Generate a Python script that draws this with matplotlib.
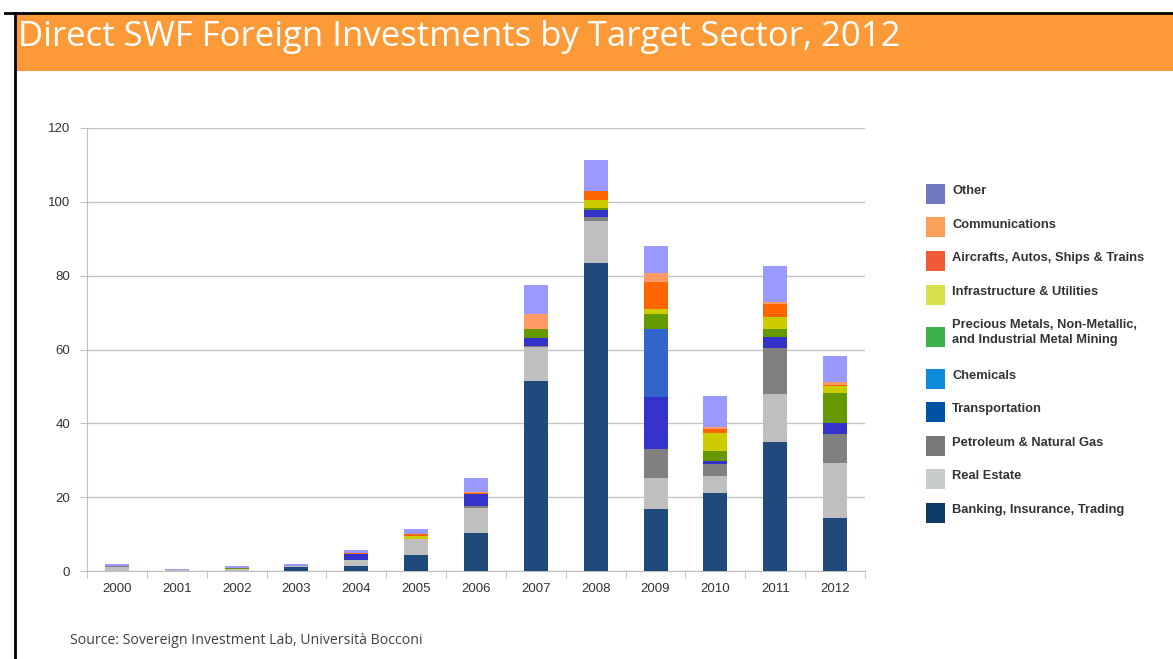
import matplotlib.pyplot as plt
from matplotlib.patches import Rectangle
from matplotlib.lines import Line2D
import numpy as np

W, H = 1173, 659

years = ['2000', '2001', '2002', '2003', '2004', '2005', '2006',
         '2007', '2008', '2009', '2010', '2011', '2012']

# sector values, US$ bn, stacked bottom to top
banking = [0.0, 0.0, 0.0, 1.0, 1.4, 4.3, 10.2, 51.5, 83.3, 16.8, 21.2, 34.9, 14.3]
real_estate = [1.0, 0.3, 0.5, 0.3, 1.6, 4.3, 7.0, 9.3, 11.5, 8.5, 4.5, 13.0, 14.9]
petroleum = [0.4, 0.0, 0.0, 0.0, 0.0, 0.0, 0.4, 0.2, 1.2, 7.7, 3.3, 12.6, 7.8]
transportation = [0.0, 0.0, 0.0, 0.0, 1.5, 0.0, 3.2, 2.2, 1.8, 14.2, 0.9, 2.8, 3.0]
chemicals = [0.0, 0.0, 0.0, 0.0, 0.0, 0.0, 0.0, 0.0, 0.0, 18.3, 0.0, 0.0, 0.0]
mining = [0.0, 0.0, 0.2, 0.0, 0.0, 0.0, 0.0, 2.4, 0.4, 4.0, 2.7, 2.2, 8.1]
infrastructure = [0.0, 0.0, 0.0, 0.0, 0.0, 1.0, 0.0, 0.0, 2.3, 1.4, 4.9, 3.4, 2.0]
aircraft = [0.0, 0.0, 0.2, 0.0, 0.3, 0.3, 0.3, 0.0, 2.4, 7.4, 1.1, 3.3, 0.3]
communications = [0.0, 0.0, 0.0, 0.0, 0.0, 0.2, 0.2, 4.0, 0.0, 2.3, 0.5, 0.7, 0.9]
other = [0.5, 0.2, 0.45, 0.5, 0.9, 1.4, 3.8, 8.0, 8.4, 7.4, 8.3, 9.7, 6.9]

series = [banking, real_estate, petroleum, transportation, chemicals,
          mining, infrastructure, aircraft, communications, other]
bar_colors = ['#204A7C', '#BFBFBF', '#808080', '#3333CC', '#3366CC',
              '#669900', '#CCCC00', '#FF6600', '#FF9966', '#9999FF']

# legend is listed top to bottom
legend_labels = ['Other', 'Communications', 'Aircrafts, Autos, Ships & Trains',
                 'Infrastructure & Utilities',
                 'Precious Metals, Non-Metallic,\nand Industrial Metal Mining',
                 'Chemicals', 'Transportation', 'Petroleum & Natural Gas',
                 'Real Estate', 'Banking, Insurance, Trading']
legend_colors = ['#6F79C0', '#F9A05A', '#F15A36', '#D6E04A', '#3DB24A',
                 '#0D8DD8', '#0052A5', '#777A78', '#C8CBCB', '#0C3A66']

fig = plt.figure(figsize=(W / 100, H / 100), dpi=100)
fig.patch.set_facecolor('white')


def fx(px):
    return px / W


def fy(py):
    return 1 - py / H


# header banner and frame
fig.patches.append(Rectangle((fx(16), fy(71)), 1, 58 / H, transform=fig.transFigure,
                             facecolor='#FD9A38', edgecolor='none'))
fig.lines.append(Line2D([fx(5), 1], [fy(13), fy(13)], transform=fig.transFigure,
                        color='black', lw=2))
fig.lines.append(Line2D([fx(15), fx(15)], [fy(13), 0], transform=fig.transFigure,
                        color='black', lw=2))
fig.text(fx(18), fy(37), 'Direct SWF Foreign Investments by Target Sector, 2012',
         family=['Open Sans', 'DejaVu Sans'],
         fontsize=25, color='white', va='center', ha='left')

ax = fig.add_axes([fx(87), fy(571), fx(865) - fx(87), fy(128) - fy(571)])
x = np.arange(len(years))
bottom = np.zeros(len(years))
for vals, col in zip(series, bar_colors):
    ax.bar(x, vals, width=0.4, bottom=bottom, color=col, edgecolor='none', zorder=3)
    bottom += np.array(vals)

ax.set_xlim(-0.5, len(years) - 0.5)
ax.set_ylim(0, 120)
ax.set_yticks(range(0, 121, 20))
ax.set_xticks(x)
ax.set_xticklabels(years)
ax.set_xticks(np.arange(-0.5, len(years), 1), minor=True)
ax.tick_params(axis='x', which='major', length=0, pad=9)
ax.tick_params(axis='x', which='minor', length=5, color='#BEBEBE')
ax.tick_params(axis='y', length=5, color='#BEBEBE', pad=7)
for lab in ax.get_xticklabels() + ax.get_yticklabels():
    lab.set_family('Liberation Sans')
    lab.set_fontsize(9.5)
    lab.set_color('#333333')
ax.grid(axis='y', color='#C4C4C4', lw=1, zorder=0)
for side in ['top', 'right']:
    ax.spines[side].set_visible(False)
for side in ['left', 'bottom']:
    ax.spines[side].set_color('#BEBEBE')
ax.set_facecolor('white')

# legend swatches and labels
ty = 190
for lab, col in zip(legend_labels, legend_colors):
    nlines = lab.count('\n') + 1
    mid = ty + (nlines - 1) * 8.5
    fig.patches.append(Rectangle((fx(926), fy(mid + 14)), 19 / W, 20 / H,
                                 transform=fig.transFigure, facecolor=col, edgecolor='none'))
    fig.text(fx(952), fy(ty - 5), lab, family='Liberation Sans', fontweight='bold',
             fontsize=9.3, color='#333333', va='top', ha='left', linespacing=1.3)
    ty += 33.5 + (nlines - 1) * 17

fig.text(fx(70), fy(641), 'Source: Sovereign Investment Lab, Università Bocconi',
         family=['Open Sans', 'DejaVu Sans'], fontsize=10.2, color='#404040',
         va='center', ha='left')

fig.savefig('out.png', dpi=100)
